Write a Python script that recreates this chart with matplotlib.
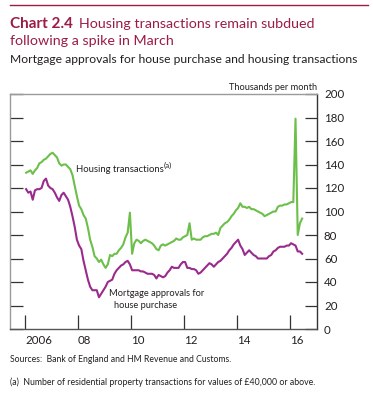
import matplotlib
matplotlib.use("Agg")
import matplotlib.pyplot as plt
import numpy as np

plt.rcParams['font.family'] = ['Lato', 'DejaVu Sans']

# Monthly data, Jan 2006 onwards (thousands per month)
housing_transactions = [
    133, 134, 135, 132, 135, 137, 141, 142, 144, 145, 147, 149,   # 2006
    150, 148, 146, 141, 139, 140, 140, 138, 136, 131, 122, 113,   # 2007
    105, 102, 97, 94, 86, 76, 70, 62, 60, 57, 59, 55,             # 2008
    52, 55, 63, 62, 64, 64, 67, 69, 72, 78, 82, 99,               # 2009
    64, 73, 76, 75, 73, 75, 76, 75, 74, 73, 71, 68,               # 2010
    67, 71, 72, 71, 72, 73, 74, 75, 77, 76, 76, 78,               # 2011
    79, 80, 90, 76, 77, 76, 76, 76, 78, 79, 79, 80,               # 2012
    81, 81, 82, 80, 86, 88, 90, 91, 93, 96, 98, 101,              # 2013
    103, 107, 104, 104, 103, 104, 102, 102, 101, 100, 99, 98,     # 2014
    96, 97, 98, 99, 100, 100, 104, 105, 105, 106, 106, 107,       # 2015
    108, 108, 179, 80, 90, 94,                                    # 2016
]
mortgage_approvals = [
    119, 116, 117, 110, 118, 119, 119, 120, 126, 128, 122, 120,   # 2006
    119, 116, 112, 109, 114, 116, 113, 110, 104, 96, 87, 76,      # 2007
    71, 68, 58, 50, 42, 36, 33, 33, 33, 27, 30, 33,               # 2008
    36, 40, 41, 42, 47, 50, 52, 54, 55, 57, 58, 55,               # 2009
    50, 50, 50, 50, 49, 49, 48, 47, 47, 47, 46, 43,               # 2010
    46, 45, 44, 45, 48, 50, 53, 52, 52, 52, 55, 57,               # 2011
    57, 52, 52, 51, 51, 50, 47, 48, 50, 52, 54, 56,               # 2012
    55, 53, 55, 57, 58, 60, 62, 64, 67, 69, 72, 74,               # 2013
    76, 71, 68, 63, 65, 67, 65, 63, 62, 60, 60, 60,               # 2014
    60, 60, 62, 63, 66, 67, 69, 70, 70, 70, 71, 71,               # 2015
    73, 72, 71, 66, 66, 64,                                       # 2016
]
start_year = 2006
x_tick_years = [2006, 2008, 2010, 2012, 2014, 2016]
x_tick_labels = ['2006', '08', '10', '12', '14', '16']
y_ticks = [0, 20, 40, 60, 80, 100, 120, 140, 160, 180, 200]

t_ht = start_year + (np.arange(len(housing_transactions)) + 0.5) / 12
t_ma = start_year + (np.arange(len(mortgage_approvals)) + 0.5) / 12

W, H = 373, 395
fig = plt.figure(figsize=(W / 100, H / 100), dpi=100)
renderer = fig.canvas.get_renderer()

crimson = '#9c1c44'
green = '#6cbf4a'
purple = '#9a2a8c'
textc = '#231f20'


def fit(txt, width_px, base=8.0, boost=1.0):
    """Scale a text's font size so it spans about width_px pixels."""
    txt.set_fontsize(base)
    w = txt.get_window_extent(renderer).width
    txt.set_fontsize(base * width_px / w * boost)
    return txt


# top rule
fig.add_artist(plt.Line2D([10 / W, 368 / W], [1 - 5 / H, 1 - 5 / H], color=crimson, lw=1.0))

ta = fig.text(10 / W, 1 - 28 / H, 'Chart 2.4', color=crimson, fontweight='bold', va='baseline')
fit(ta, 63)
bb = ta.get_window_extent(renderer)
tb = fig.text((bb.x1 + 6) / W, 1 - 28 / H, 'Housing transactions remain subdued', color=crimson,
              va='baseline')
fit(tb, 315 - bb.x1 - 6)
fig.text(10 / W, 1 - 45 / H, 'following a spike in March', color=crimson, fontsize=tb.get_fontsize(),
         va='baseline')
st = fig.text(10 / W, 1 - 63 / H, 'Mortgage approvals for house purchase and housing transactions',
              color=textc, va='baseline')
fit(st, 350)

ax_l, ax_r, ax_t, ax_b = 10, 317, 94, 329
ax = fig.add_axes([ax_l / W, 1 - ax_b / H, (ax_r - ax_l) / W, (ax_b - ax_t) / H])
ax.plot(t_ht, housing_transactions, color=green, lw=1.5, solid_joinstyle='round')
ax.plot(t_ma, mortgage_approvals, color=purple, lw=1.5, solid_joinstyle='round')

x0 = 2006 - (25 - ax_l) / 26.5
x1 = 2006 + (ax_r - 25) / 26.5
ax.set_xlim(x0, x1)
ax.set_ylim(0, 200)

for s in ['top', 'left']:
    ax.spines[s].set_color('#9a9a9a')
    ax.spines[s].set_linewidth(1.0)
ax.spines['right'].set_color('#333333')
ax.spines['right'].set_linewidth(1.0)
ax.spines['bottom'].set_color('#555555')
ax.spines['bottom'].set_linewidth(1.0)

ax.set_yticks(y_ticks)
ax.yaxis.tick_right()
ax.tick_params(axis='y', which='both', direction='in', length=9, width=0.9, color='#333333',
               labelsize=8.3, labelcolor=textc, left=True, right=True, pad=5)
ax.set_yticklabels([str(v) for v in y_ticks])
ax.set_xticks(x_tick_years)
ax.set_xticklabels(x_tick_labels)
ax.tick_params(axis='x', direction='in', length=10, width=0.9, color='#333333',
               labelsize=8.3, labelcolor=textc, pad=4)
for lab in ax.get_xticklabels():
    lab.set_horizontalalignment('left')

tp = ax.text(1, 1.01, 'Thousands per month', transform=ax.transAxes, ha='right', va='bottom',
             color=textc)
fit(tp, 85, boost=1.05)

h1 = ax.text(2007.92, 135.5, 'Housing transactions', color=textc, va='center')
fit(h1, 84, boost=1.05)
hb = h1.get_window_extent(renderer)
fig.text((hb.x1 - 0.5) / W, (hb.y1 + 3.5) / H, '(a)', color=textc, va='top', ha='left',
         fontsize=h1.get_fontsize() * 0.85)
m1 = ax.text(2009.17, 30.3, 'Mortgage approvals for', color=textc, va='center')
fit(m1, 91, boost=1.05)
m2 = ax.text(2009.36, 20, 'house purchase', color=textc, va='center', fontsize=m1.get_fontsize())

s1 = fig.text(10 / W, 1 - 362 / H, 'Sources:  Bank of England and HM Revenue and Customs.',
              color=textc, va='baseline')
fit(s1, 213, boost=1.04)
s2 = fig.text(10 / W, 1 - 385 / H,
              '(a)  Number of residential property transactions for values of £40,000 or above.',
              color=textc, va='baseline')
fit(s2, 296, boost=1.04)

fig.savefig('out.png', dpi=100)
